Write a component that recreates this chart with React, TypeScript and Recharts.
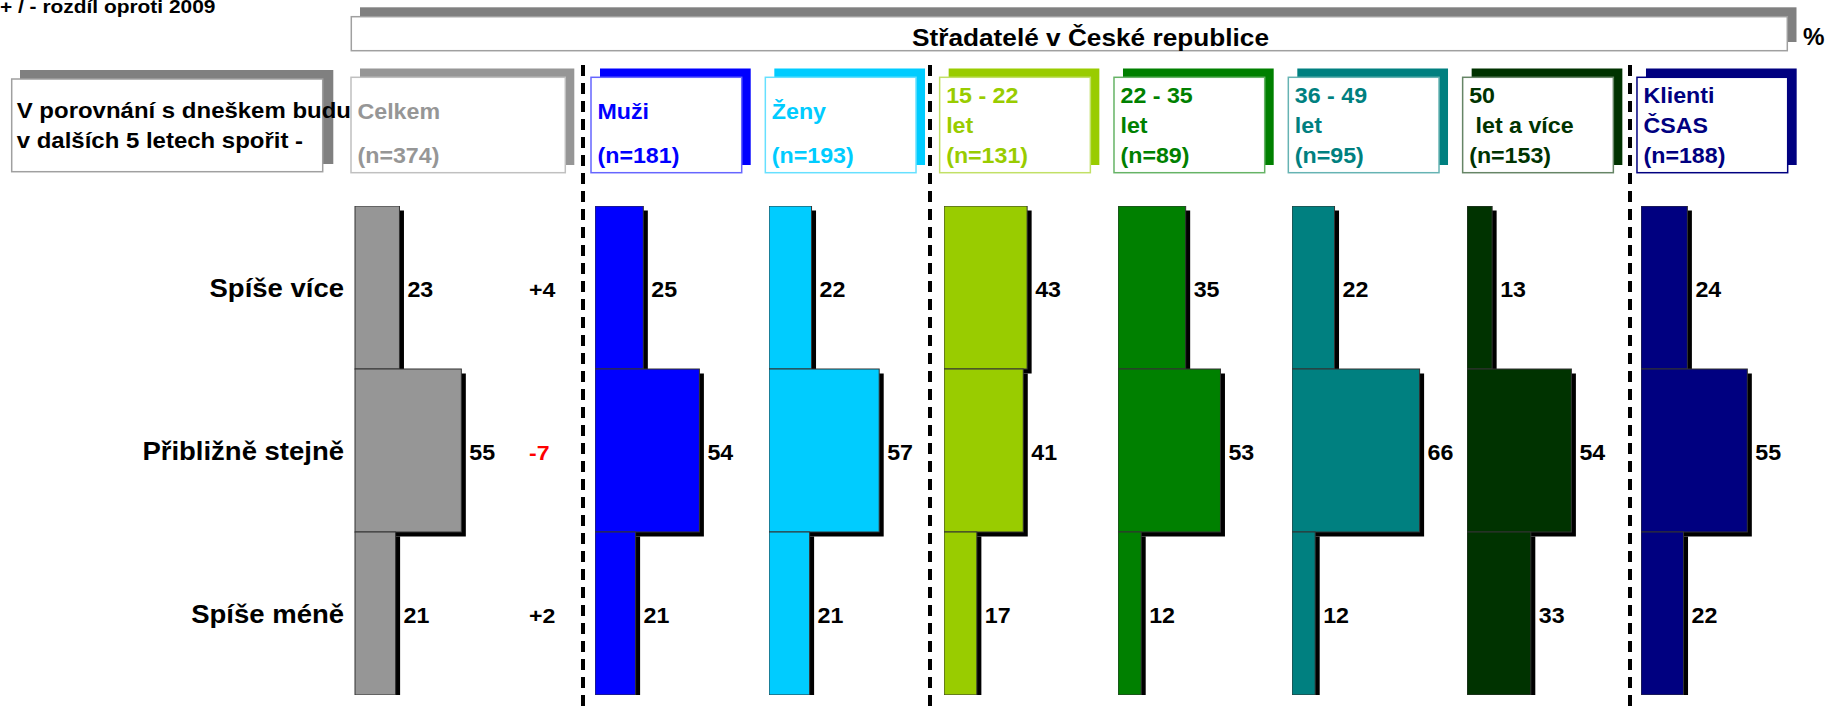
import React from 'react'
import { BarChart, Bar, XAxis, YAxis, LabelList } from 'recharts'

// row categories + change vs. 2009 (Celkem only)
const rowLabels = ['Spíše více', 'Přibližně stejně', 'Spíše méně']
const diffVs2009 = ['+4', '-7', '+2']
const diffColors = ['#000000', '#FF0000', '#000000']

// % per group, same order as rowLabels
const celkem = [23, 55, 21]
const muzi = [25, 54, 21]
const zeny = [22, 57, 21]
const age15to22 = [43, 41, 17]
const age22to35 = [35, 53, 12]
const age36to49 = [22, 66, 12]
const age50plus = [13, 54, 33]
const klientiCsas = [24, 55, 22]

const groupValues = [celkem, muzi, zeny, age15to22, age22to35, age36to49, age50plus, klientiCsas]
const groupTitles = [['Celkem'], ['Muži'], ['Ženy'], ['15 - 22', 'let'], ['22 - 35', 'let'], ['36 - 49', 'let'], ['50', ' let a více'], ['Klienti', 'ČSAS']]
const groupSizes = ['(n=374)', '(n=181)', '(n=193)', '(n=131)', '(n=89)', '(n=95)', '(n=153)', '(n=188)']
const groupColors = ['#969696', '#0000FF', '#00CCFF', '#99CC00', '#008000', '#008080', '#003300', '#000080']
const groupBorders = ['#C0C0C0', '#6666FF', '#66E0FF', '#C2E066', '#66B366', '#66B3B3', '#668566', '#000080']

const noteText = '+ / - rozdíl oproti 2009'
const questionLines = ['V porovnání s dneškem budu', 'v dalších 5 letech spořit -']
const topTitle = 'Střadatelé v České republice'

const FONT = '"Liberation Sans", Arial, Helvetica, sans-serif'
const PLOT_TOP = 206
const PLOT_H = 489
const PANEL_W = 174
const DOMAIN_MAX = 90
const LEFT_AXIS_W = 355
const DIFF_AXIS_W = 40
const dividers = [583, 930, 1630]

const barLeft = (i: number) => (i === 0 ? LEFT_AXIS_W : 595 + (i - 1) * 174.33)

function SText({ x, y, size, fill = '#000', anchor = 'start', sx = 1.1, children }: any) {
  return (
    <text
      transform={`translate(${x},${y}) scale(${sx},1)`}
      fontSize={size}
      fontWeight="bold"
      fontFamily={FONT}
      fill={fill}
      textAnchor={anchor}
      style={{ whiteSpace: 'pre' }}
    >
      {children}
    </text>
  )
}

const ShadowBar = (props: any) => {
  const { x, y, width, height, fill } = props
  if (!width || !height) return null
  return (
    <g>
      <rect x={x + 4.5} y={y + 4.5} width={width} height={height} fill="#000" />
      <rect x={x} y={y} width={width} height={height} fill={fill} stroke="#333" strokeWidth={1} />
    </g>
  )
}

const valueLabel = (props: any) => {
  const { x, y, width, height, value } = props
  return (
    <SText x={x + width + 8} y={y + height / 2 + 9} size={21.5} sx={1.08}>
      {value}
    </SText>
  )
}

const rowTick = (props: any) => (
  <SText x={props.x} y={props.y + 9} size={25} anchor="end" sx={1.1}>
    {props.payload.value}
  </SText>
)

const diffTick = (props: any) => (
  <SText x={props.x} y={props.y + 9} size={21} fill={diffColors[props.index]}>
    {props.payload.value}
  </SText>
)

function Panel({ index }: { index: number }) {
  const first = index === 0
  const data = rowLabels.map((label, i) => ({ label, diff: diffVs2009[i], value: groupValues[index][i] }))
  const width = first ? LEFT_AXIS_W + PANEL_W + DIFF_AXIS_W : PANEL_W
  return (
    <div style={{ position: 'absolute', left: first ? 0 : barLeft(index), top: PLOT_TOP }}>
      <BarChart
        width={width}
        height={PLOT_H}
        data={data}
        layout="vertical"
        barCategoryGap={0}
        margin={{ top: 0, right: 0, bottom: 0, left: 0 }}
      >
        <XAxis type="number" domain={[0, DOMAIN_MAX]} hide />
        <YAxis
          type="category"
          dataKey="label"
          hide={!first}
          width={LEFT_AXIS_W}
          axisLine={false}
          tickLine={false}
          tickSize={0}
          tickMargin={11}
          tick={rowTick}
        />
        {first && (
          <YAxis
            yAxisId="diff"
            orientation="right"
            type="category"
            dataKey="diff"
            width={DIFF_AXIS_W}
            axisLine={false}
            tickLine={false}
            tickSize={0}
            tickMargin={0}
            tick={diffTick}
          />
        )}
        <Bar dataKey="value" fill={groupColors[index]} shape={ShadowBar} isAnimationActive={false}>
          <LabelList dataKey="value" content={valueLabel} />
        </Bar>
      </BarChart>
    </div>
  )
}

function Header({ index }: { index: number }) {
  const bx = barLeft(index) - 4
  const bw = index === 0 ? 214.3 : 150.7
  const lines = groupTitles[index]
  const baselines = lines.length === 1 ? [119] : [103, 133]
  const color = groupColors[index]
  return (
    <g>
      <rect x={bx + 9} y={68.5} width={bw} height={96.5} fill={color} />
      <rect x={bx} y={77.3} width={bw} height={95.4} fill="#fff" stroke={groupBorders[index]} strokeWidth={1.5} />
      {lines.map((t, k) => (
        <SText key={k} x={bx + 6.5} y={baselines[k]} size={21.5} fill={color} sx={1.08}>
          {t}
        </SText>
      ))}
      <SText x={bx + 6.5} y={163} size={21.5} fill={color} sx={1.08}>
        {groupSizes[index]}
      </SText>
    </g>
  )
}

export default function App() {
  return (
    <div style={{ position: 'relative', width: 1829, height: 709, overflow: 'hidden', background: '#fff' }}>
      <style>{`body{margin:0}`}</style>
      {groupValues.map((_, i) => (
        <Panel key={i} index={i} />
      ))}
      <svg width={1829} height={709} style={{ position: 'absolute', left: 0, top: 0, pointerEvents: 'none' }}>
        <SText x={0} y={13} size={19}>
          {noteText}
        </SText>

        {/* big title box */}
        <rect x={360} y={7.3} width={1436.5} height={34.7} fill="#808080" />
        <rect x={351.3} y={16.7} width={1436} height={34} fill="#fff" stroke="#A0A0A0" strokeWidth={1.5} />
        <SText x={912} y={45.7} size={23} sx={1.14}>
          {topTitle}
        </SText>
        <SText x={1803} y={45} size={23} sx={1.05}>
          %
        </SText>

        {/* question box */}
        <rect x={20} y={70} width={313.3} height={94} fill="#808080" />
        <rect x={11.7} y={79} width={311} height={92.7} fill="#fff" stroke="#A0A0A0" strokeWidth={1.5} />
        {questionLines.map((t, k) => (
          <SText key={k} x={16.7} y={118.3 + k * 30} size={22} sx={1.09}>
            {t}
          </SText>
        ))}

        {groupTitles.map((_, i) => (
          <Header key={i} index={i} />
        ))}

        {dividers.map((x) => (
          <line key={x} x1={x} x2={x} y1={65} y2={709} stroke="#000" strokeWidth={4} strokeDasharray="11 7" />
        ))}
      </svg>
    </div>
  )
}
